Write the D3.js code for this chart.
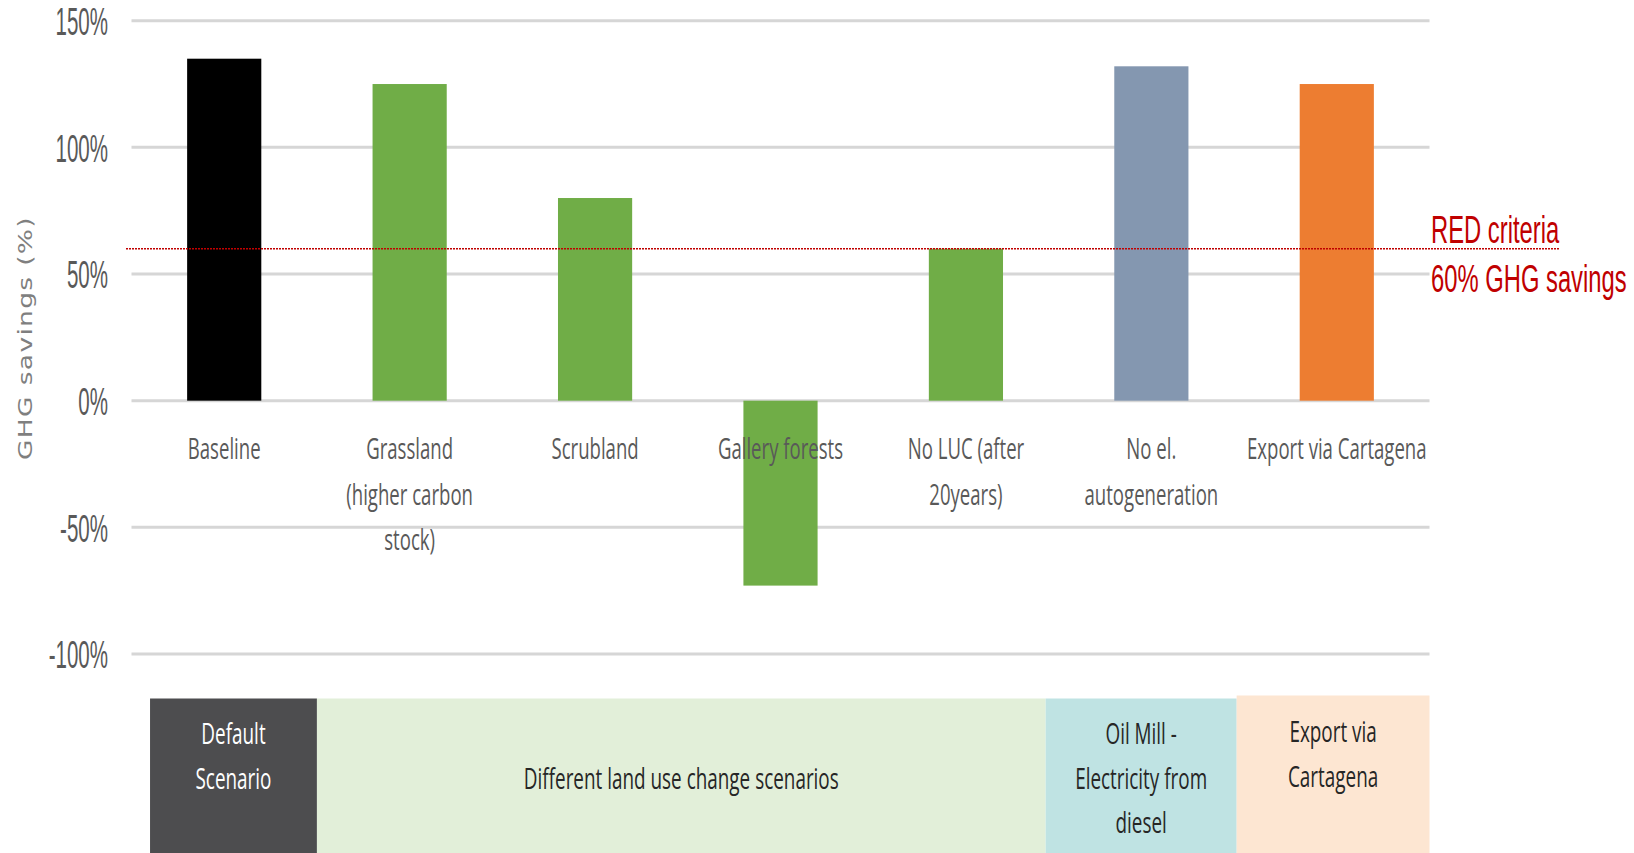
<!DOCTYPE html>
<html>
<head>
<meta charset="utf-8">
<script src="https://cdn.jsdelivr.net/npm/d3@7"></script>
<style>
  html, body { margin: 0; padding: 0; background: #fff; }
  svg { display: block; }
</style>
</head>
<body>
<svg id="chart" width="1634" height="853"></svg>
<script>
// Scenario categories (label lines) and GHG savings in percent
const categories = [
  ["Baseline"],
  ["Grassland", "(higher carbon", "stock)"],
  ["Scrubland"],
  ["Gallery forests"],
  ["No LUC (after", "20years)"],
  ["No el.", "autogeneration"],
  ["Export via Cartagena"]
];
const savings = [135, 125, 80, -73, 60, 132, 125];
const barColors = ["#000000", "#70ad47", "#70ad47", "#70ad47", "#70ad47", "#8497b0", "#ed7d31"];

const yTicks = [-100, -50, 0, 50, 100, 150];
const redThreshold = 60;
const redLabel = ["RED criteria", "60% GHG savings"];
const yTitle = "GHG savings (%)";

// Scenario groups below the chart, with edges in category units
const groupLabels = [
  ["Default", "Scenario"],
  ["Different land use change scenarios"],
  ["Oil Mill -", "Electricity from", "diesel"],
  ["Export via", "Cartagena"]
];
const groupEdges = [0.1, 1.0, 4.93, 5.96, 7.0];
const groupFill = ["#4d4d4f", "#e2efd9", "#bfe3e3", "#fde6d2"];
const groupText = ["#ffffff", "#262626", "#262626", "#262626"];

const svg = d3.select("#chart");
const left = 131.5, right = 1429.5;

const x = d3.scaleBand()
  .domain(d3.range(categories.length))
  .range([left, right])
  .paddingInner(0.6)
  .paddingOuter(0.3);

const y = d3.scaleLinear().domain([-100, 150]).range([654, 20.7]);

// category units -> pixels, for the group boxes
const u = d3.scaleLinear().domain([0, categories.length]).range([left, right]);

// gridlines
svg.append("g").selectAll("line").data(yTicks).join("line")
  .attr("x1", left).attr("x2", right)
  .attr("y1", d => y(d)).attr("y2", d => y(d))
  .attr("stroke", "#d6d6d6").attr("stroke-width", 3);

// y tick labels
const yAxis = d3.axisLeft(y).tickValues(yTicks).tickFormat(d => d + "%").tickSize(0);
const yg = svg.append("g").attr("transform", `translate(108,0)`).call(yAxis);
yg.select(".domain").remove();
yg.selectAll(".tick text")
  .attr("x", 0).attr("dy", "0.36em")
  .attr("font-family", "Liberation Sans, Arial, sans-serif")
  .attr("font-size", 38)
  .attr("fill", "#595959")
  .attr("text-anchor", "end")
  .attr("transform", "scale(0.54,1)");

// y title, stretched along its length
const yt = svg.append("text")
  .attr("text-anchor", "middle")
  .attr("font-family", "DejaVu Sans, Verdana, sans-serif")
  .attr("font-size", 20)
  .attr("fill", "#7f7f7f")
  .attr("letter-spacing", 1)
  .text(yTitle);
const ytLen = yt.node().getComputedTextLength();
yt.attr("transform", `translate(32,338) rotate(-90) scale(${244 / ytLen},1)`);

// bars
svg.append("g").selectAll("rect").data(savings).join("rect")
  .attr("x", (d, i) => x(i))
  .attr("width", x.bandwidth())
  .attr("y", d => y(Math.max(0, d)))
  .attr("height", d => Math.abs(y(d) - y(0)))
  .attr("fill", (d, i) => barColors[i]);

// category labels
const labelFont = "Open Sans, Noto Sans, sans-serif";
const catG = svg.append("g").selectAll("g").data(categories).join("g")
  .attr("transform", (d, i) => `translate(${x(i) + x.bandwidth() / 2},459)`);
catG.selectAll("text").data(d => d).join("text")
  .attr("transform", (d, j) => `translate(0,${j * 45.5}) scale(0.62,1)`)
  .attr("text-anchor", "middle")
  .attr("font-family", labelFont)
  .attr("font-size", 30)
  .attr("fill", "#595959")
  .text(d => d);

// RED criteria threshold
svg.append("line")
  .attr("x1", 126).attr("x2", 1560)
  .attr("y1", y(redThreshold)).attr("y2", y(redThreshold))
  .attr("stroke", "#c00000").attr("stroke-width", 1.6)
  .attr("stroke-dasharray", "2,1");

svg.append("g").selectAll("text").data(redLabel).join("text")
  .attr("transform", (d, j) => `translate(1431,${243 + j * 48.5}) scale(0.61,1)`)
  .attr("font-family", "Liberation Sans, Arial, sans-serif")
  .attr("font-size", 39)
  .attr("fill", "#c00000")
  .text(d => d);

// group boxes
const boxTop = 698.5;
const gb = svg.append("g").selectAll("g").data(groupLabels).join("g");
gb.append("rect")
  .attr("x", (d, i) => u(groupEdges[i]))
  .attr("width", (d, i) => u(groupEdges[i + 1]) - u(groupEdges[i]))
  .attr("y", (d, i) => i === 3 ? boxTop - 3 : boxTop)
  .attr("height", (d, i) => 853 - boxTop + (i === 3 ? 3 : 0))
  .attr("fill", (d, i) => groupFill[i]);
gb.each(function (lines, i) {
  const cx = (u(groupEdges[i]) + u(groupEdges[i + 1])) / 2;
  const y0 = lines.length === 1 ? 789 : (i === 3 ? 742 : 744);
  d3.select(this).selectAll("text").data(lines).join("text")
    .attr("transform", (d, j) => `translate(${cx},${y0 + j * 44.5}) scale(0.63,1)`)
    .attr("text-anchor", "middle")
    .attr("font-family", labelFont)
    .attr("font-size", 30)
    .attr("fill", groupText[i])
    .text(d => d);
});
</script>
</body>
</html>
